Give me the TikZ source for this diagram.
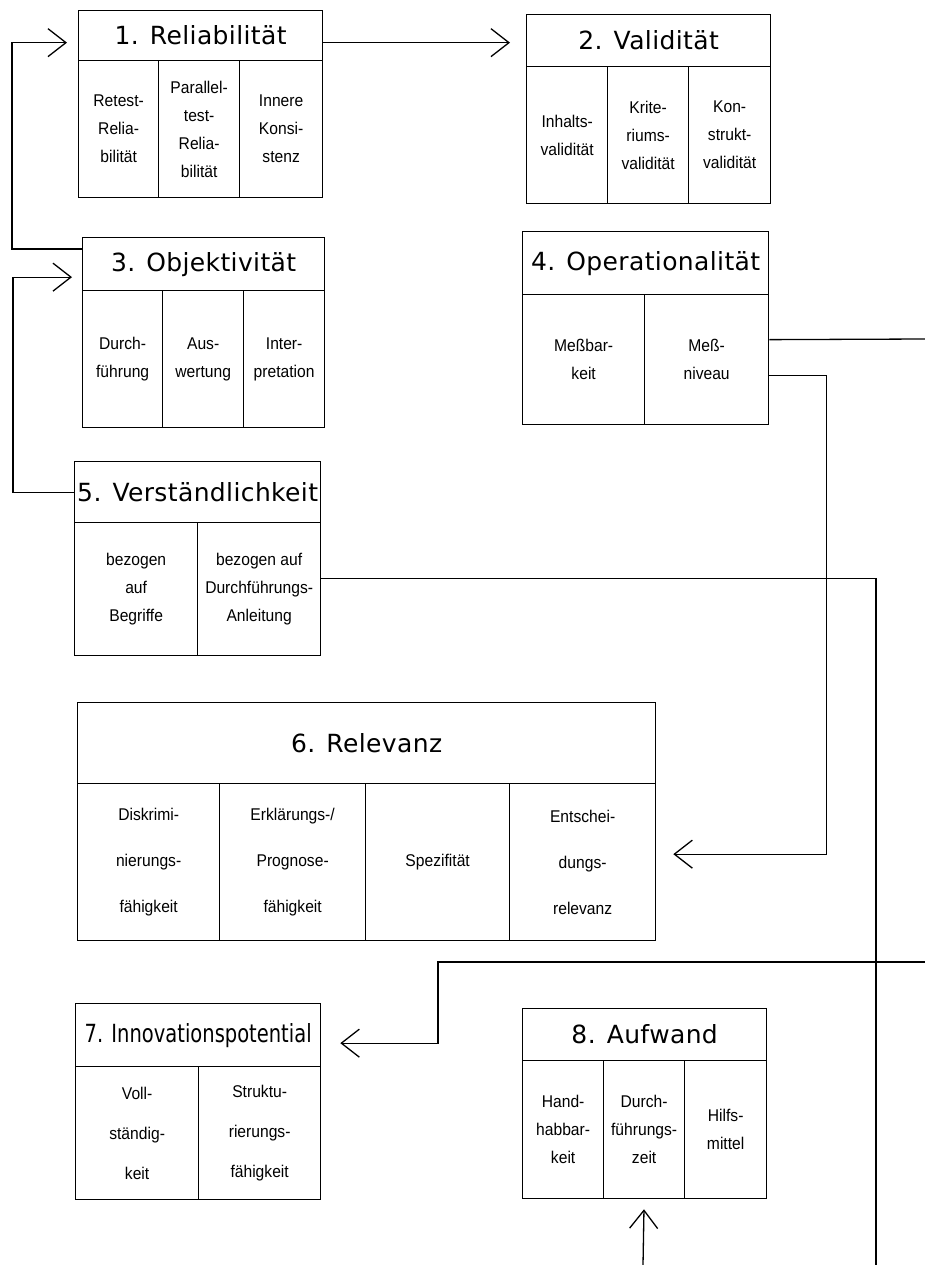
\documentclass[tikz,border=0pt]{standalone}
\usepackage{fontspec}
\usetikzlibrary{arrows.meta}

\newfontfamily\kopffont{DejaVu Sans}[LetterSpace=1.5]
\newfontfamily\kopfschmal{DejaVu Sans}[FakeStretch=0.78]
\newfontfamily\zellfont{Liberation Sans}[FakeStretch=0.92]

\tikzset{
	kopf/.style={draw, anchor=north west, inner sep=0pt, font=\kopffont\fontsize{25}{30}\selectfont},
	zelle/.style={draw, anchor=north west, inner sep=0pt, align=center, font=\zellfont\fontsize{17}{28}\selectfont},
	zelleweit/.style={zelle, font=\zellfont\fontsize{17}{46}\selectfont},
	zellemittel/.style={zelle, font=\zellfont\fontsize{17}{40}\selectfont},
	pfeil/.style={-{Straight Barb[length=18pt,width=28pt]}}
}

\begin{document}
\begin{tikzpicture}[x=1pt, y=-1pt, line width=1.3pt]

	\useasboundingbox (0,0) rectangle (925,1265);

		\node[kopf, minimum width=244pt, minimum height=50pt] (relk) at (78,10) {1. Reliabilität};
			\node[zelle, minimum width=80pt, minimum height=137pt] (rel1) at (78,60) {Retest-\\Relia-\\bilität};
			\node[zelle, minimum width=81pt, minimum height=137pt] (rel2) at (158,60) {Parallel-\\test-\\Relia-\\bilität};
			\node[zelle, minimum width=83pt, minimum height=137pt] (rel3) at (239,60) {Innere\\Konsi-\\stenz};

		\node[kopf, minimum width=244pt, minimum height=52pt] (valk) at (526,14) {2. Validität};
			\node[zelle, minimum width=81pt, minimum height=137pt] (val1) at (526,66) {Inhalts-\\validität};
			\node[zelle, minimum width=81pt, minimum height=137pt] (val2) at (607,66) {Krite-\\riums-\\validität};
			\node[zelle, minimum width=82pt, minimum height=137pt] (val3) at (688,66) {Kon-\\strukt-\\validität};

		\node[kopf, minimum width=242pt, minimum height=53pt] (objk) at (82,237) {3. Objektivität};
			\node[zelle, minimum width=80pt, minimum height=137pt] (obj1) at (82,290) {Durch-\\führung};
			\node[zelle, minimum width=81pt, minimum height=137pt] (obj2) at (162,290) {Aus-\\wertung};
			\node[zelle, minimum width=81pt, minimum height=137pt] (obj3) at (243,290) {Inter-\\pretation};

		\node[kopf, minimum width=246pt, minimum height=63pt] (opek) at (522,231) {4. Operationalität};
			\node[zelle, minimum width=122pt, minimum height=130pt] (ope1) at (522,294) {Meßbar-\\keit};
			\node[zelle, minimum width=124pt, minimum height=130pt] (ope2) at (644,294) {Meß-\\niveau};

		\node[kopf, minimum width=246pt, minimum height=61pt] (verk) at (74,461) {5. Verständlichkeit};
			\node[zelle, minimum width=123pt, minimum height=133pt] (ver1) at (74,522) {bezogen\\auf\\Begriffe};
			\node[zelle, minimum width=123pt, minimum height=133pt] (ver2) at (197,522) {bezogen auf\\Durchführungs-\\Anleitung};

		\node[kopf, minimum width=578pt, minimum height=81pt] (rlvk) at (77,702) {6. Relevanz};
			\node[zelleweit, minimum width=142pt, minimum height=157pt] (rlv1) at (77,783) {Diskrimi-\\nierungs-\\fähigkeit};
			\node[zelleweit, minimum width=146pt, minimum height=157pt] (rlv2) at (219,783) {Erklärungs-/\\Prognose-\\fähigkeit};
			\node[zelleweit, minimum width=144pt, minimum height=157pt] (rlv3) at (365,783) {Spezifität};
			\node[zelleweit, minimum width=146pt, minimum height=157pt] (rlv4) at (509,783) {Entschei-\\dungs-\\relevanz};

		\node[kopf, font=\kopfschmal\fontsize{25}{30}\selectfont, minimum width=245pt, minimum height=63pt] (innk) at (75,1003) {7. Innovationspotential};
			\node[zellemittel, minimum width=123pt, minimum height=133pt] (inn1) at (75,1066) {Voll-\\ständig-\\keit};
			\node[zellemittel, minimum width=122pt, minimum height=133pt] (inn2) at (198,1066) {Struktu-\\rierungs-\\fähigkeit};

		\node[kopf, minimum width=244pt, minimum height=52pt] (aufk) at (522,1008) {8. Aufwand};
			\node[zelle, minimum width=81pt, minimum height=138pt] (auf1) at (522,1060) {Hand-\\habbar-\\keit};
			\node[zelle, minimum width=81pt, minimum height=138pt] (auf2) at (603,1060) {Durch-\\führungs-\\zeit};
			\node[zelle, minimum width=82pt, minimum height=138pt] (auf3) at (684,1060) {Hilfs-\\mittel};

		\coordinate (rand1) at (925,339);
		\coordinate (rand2) at (925,962);
		\coordinate (knick) at (438,962);
		\coordinate (unten1) at (876,1265);
		\coordinate (unten2) at (643,1265);

		\draw[pfeil, shorten >=11pt] ([yshift=15pt]objk.west) -- ++(-70,0) |- ([yshift=-7pt]relk.west);
		\draw[pfeil, shorten >=10pt] (verk.west) -- ++(-61,0) |- ([yshift=-13pt]objk.west);
		\draw[pfeil, shorten >=16pt] ([yshift=-7pt]relk.east) -- ([yshift=-7pt]relk.east -| valk.west);
		\draw ([yshift=20pt]ope2.east) -- (rand1);
		\draw[pfeil, shorten >=17pt] ([yshift=-16pt]ope2.east) -- ++(57,0) |- ([yshift=8pt]rlv4.east);
		\draw ([yshift=11pt]ver2.east) -| (unten1);
		\draw[pfeil, shorten >=19pt] (rand2) -- (knick) |- ([yshift=-8pt]innk.east);
		\draw[pfeil, shorten >=10pt] (unten2) -- (auf2.south);

\end{tikzpicture}
\end{document}
